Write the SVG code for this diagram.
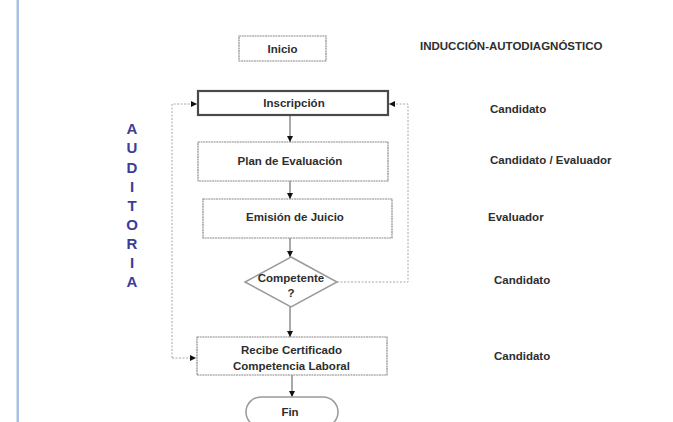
<svg xmlns="http://www.w3.org/2000/svg" width="673" height="422" viewBox="0 0 673 422">
  <defs>
    <marker id="arrow" viewBox="0 0 6 6" refX="6" refY="3" markerWidth="6" markerHeight="6" orient="auto" markerUnits="userSpaceOnUse">
      <path d="M0,0 L6,3 L0,6 Z" fill="#111"/>
    </marker>
    <style>
      .box { fill: #fff; stroke: #8a8a8a; stroke-width: 1.2; stroke-dasharray: 2 0.6; }
      .boxStrong { fill: #fff; stroke: #4a4a4a; stroke-width: 2.2; }
      .shape { fill: #fff; stroke: #9a9a9a; stroke-width: 1.5; }
      .flow { fill: none; stroke: #555; stroke-width: 1; }
      .loop { fill: none; stroke: #a8a8a8; stroke-width: 1; stroke-dasharray: 2 1.5; }
      .t { font-family: "Liberation Sans", Arial, sans-serif; font-weight: bold; font-size: 11.5px; fill: #2e2e2e; text-anchor: middle; }
      .lbl { font-family: "Liberation Sans", Arial, sans-serif; font-weight: bold; font-size: 11.5px; fill: #2e2e2e; }
      .aud { font-family: "Liberation Sans", Arial, sans-serif; font-weight: bold; font-size: 15px; fill: #3d3d96; text-anchor: middle; }
    </style>
  </defs>

  <rect width="673" height="422" fill="#fff"/>
  <!-- left margin rule -->
  <rect x="16.5" y="0" width="2.5" height="422" fill="#a9c0e6"/>

  <!-- connectors -->
  <g id="connectors">
    <line class="flow" x1="290" y1="115" x2="290" y2="142" marker-end="url(#arrow)"/>
    <line class="flow" x1="290" y1="181" x2="290" y2="199" marker-end="url(#arrow)"/>
    <line class="flow" x1="290" y1="238" x2="290" y2="257" marker-end="url(#arrow)"/>
    <line class="flow" x1="290" y1="307" x2="290" y2="337" marker-end="url(#arrow)"/>
    <line class="flow" x1="292" y1="375" x2="292" y2="397" marker-end="url(#arrow)"/>
    <!-- audit loop on the left -->
    <polyline class="loop" points="172,358 172,104 197,104" marker-end="url(#arrow)"/>
    <line class="loop" x1="172" y1="358" x2="196" y2="358" marker-end="url(#arrow)"/>
    <!-- not competent: back to registration -->
    <polyline class="loop" points="337,282 408,282 408,104 389,104" marker-end="url(#arrow)"/>
  </g>

  <g id="inicio">
    <rect class="box" x="239" y="36" width="87" height="25"/>
    <text class="t" x="282.5" y="52.5">Inicio</text>
  </g>

  <g id="inscripcion">
    <rect class="boxStrong" x="198" y="91" width="190" height="24"/>
    <text class="t" x="294" y="107">Inscripción</text>
  </g>

  <g id="plan">
    <rect class="box" x="198" y="142" width="190" height="39"/>
    <text class="t" x="290" y="164.5">Plan de Evaluación</text>
  </g>

  <g id="emision">
    <rect class="box" x="203" y="199" width="189" height="39"/>
    <text class="t" x="295" y="221">Emisión  de Juicio</text>
  </g>

  <g id="competente">
    <polygon class="shape" points="291,257 337,282 291,307 245,282"/>
    <text class="t" x="291" y="282">Competente</text>
    <text class="t" x="291" y="296.5">?</text>
  </g>

  <g id="recibe">
    <rect class="box" x="197" y="337" width="190" height="38"/>
    <text class="t" x="291.5" y="354">Recibe Certificado</text>
    <text class="t" x="291.5" y="370">Competencia Laboral</text>
  </g>

  <g id="fin">
    <rect class="shape" x="246" y="397" width="92" height="30" rx="15" ry="15"/>
    <text class="t" x="290" y="416">Fin</text>
  </g>

  <!-- responsible roles -->
  <g id="roles">
    <text class="lbl" x="420" y="50">INDUCCIÓN-AUTODIAGNÓSTICO</text>
    <text class="lbl" x="490" y="113">Candidato</text>
    <text class="lbl" x="490" y="164">Candidato / Evaluador</text>
    <text class="lbl" x="488" y="221">Evaluador</text>
    <text class="lbl" x="494" y="284">Candidato</text>
    <text class="lbl" x="494" y="360">Candidato</text>
  </g>

  <!-- vertical audit label -->
  <g id="auditoria">
    <text class="aud" x="132" y="133.5">A</text>
    <text class="aud" x="132" y="153">U</text>
    <text class="aud" x="132" y="172.5">D</text>
    <text class="aud" x="132" y="192">I</text>
    <text class="aud" x="132" y="210.5">T</text>
    <text class="aud" x="132" y="229.5">O</text>
    <text class="aud" x="132" y="248.5">R</text>
    <text class="aud" x="132" y="267.5">I</text>
    <text class="aud" x="132" y="287">A</text>
  </g>
</svg>
